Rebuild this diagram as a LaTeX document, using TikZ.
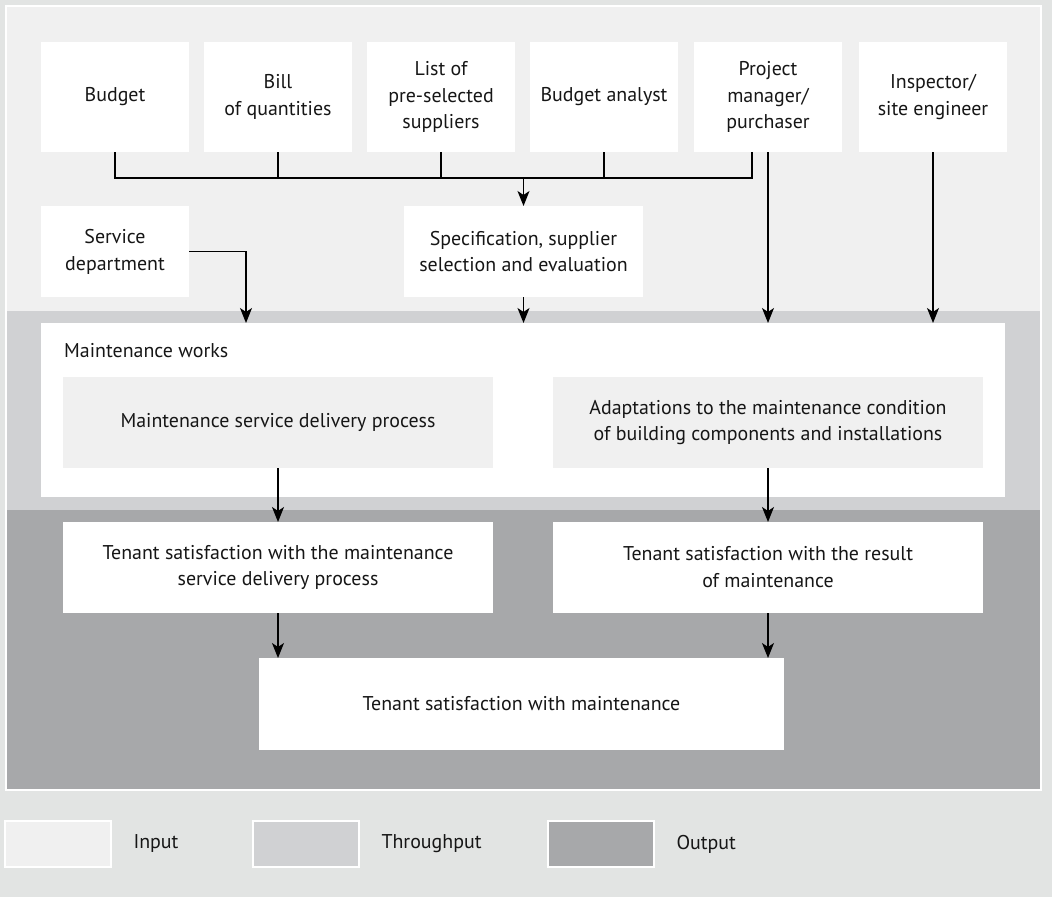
\documentclass[tikz,border=0pt]{standalone}
\usepackage{fontspec}
\setmainfont{PT Sans}
\usetikzlibrary{arrows.meta}
\definecolor{pagebg}{HTML}{E2E4E3}
\definecolor{inbg}{HTML}{F0F0F0}
\definecolor{thbg}{HTML}{D0D1D3}
\definecolor{outbg}{HTML}{A7A8AA}
\definecolor{ink}{HTML}{161616}
\begin{document}
\begin{tikzpicture}[x=1bp,y=-1bp,
  font=\fontsize{20}{27}\selectfont, text=ink,
  box/.style={fill=white, inner sep=0pt, outer sep=0pt, align=center, anchor=north west},
  topbox/.style={box, minimum width=148bp, minimum height=110bp},
  midbox/.style={box, minimum height=91bp},
  procbox/.style={box, fill=inbg, minimum width=430bp, minimum height=91bp},
  resbox/.style={box, minimum width=430bp, minimum height=91bp},
  swatch/.style={draw=white, line width=2bp, inner sep=0pt, outer sep=0pt, anchor=north west,
                 minimum width=106bp, minimum height=46bp},
  legtext/.style={anchor=west, xshift=19bp},
  link/.style={draw=black, line width=1.2bp},
  arr/.style={link, -{Stealth[length=15bp,width=12bp,inset=4bp]}},
]
\useasboundingbox (0,0) rectangle (1052,897);
\fill[pagebg] (0,0) rectangle (1052,897);

% zones: input, throughput, output
\fill[inbg]  (7,7)   rectangle (1040,311);
\fill[thbg]  (7,311) rectangle (1040,510);
\fill[outbg] (7,510) rectangle (1040,789);
\draw[white, line width=2bp] (6,6) rectangle (1041,790);

% input resources
\node[topbox] (budget)  at (41,42)  {Budget};
\node[topbox] (bill)    at (204,42) {Bill\\of quantities};
\node[topbox] (list)    at (367,42) {List of\\pre-selected\\suppliers};
\node[topbox] (analyst) at (530,42) {Budget analyst};
\node[topbox] (pm)      at (694,42) {Project\\manager/\\purchaser};
\node[topbox] (insp)    at (859,42) {Inspector/\\site engineer};

\node[midbox, minimum width=148bp] (svc)  at (41,206)  {Service\\department};
\node[midbox, minimum width=239bp] (spec) at (404,206) {Specification, supplier\\selection and evaluation};

% throughput
\node[box, minimum width=964bp, minimum height=174bp] (mw) at (41,323) {};
\node[anchor=base west, inner sep=0pt] (mwlabel) at (64,357) {Maintenance works};
\node[procbox] (msd)   at (63,377)  {Maintenance service delivery process};
\node[procbox] (adapt) at (553,377) {Adaptations to the maintenance condition\\of building components and installations};

% output
\node[resbox] (ts1) at (63,522)  {Tenant satisfaction with the maintenance\\service delivery process};
\node[resbox] (ts2) at (553,522) {Tenant satisfaction with the result\\of maintenance};
\node[box, minimum width=525bp, minimum height=92bp] (final) at (259,658) {Tenant satisfaction with maintenance};

% collecting line under the top row
\coordinate (bus) at (0,178);
\coordinate (pmjoin) at (752,152);
\coordinate (svcbend) at (246,0);
\draw[link] (budget.south) -- (budget.south |- bus) -- (pmjoin |- bus) -- (pmjoin);
\draw[link] (bill.south) -- (bill.south |- bus);
\draw[link] (list.south) -- (list.south |- bus);
\draw[link] (analyst.south) -- (analyst.south |- bus);
\draw[arr] (spec.north |- bus) -- (spec.north);

% into maintenance works
\draw[arr] (svc.east) -| (svcbend |- mw.north);
\draw[arr] (spec.south) -- (spec.south |- mw.north);
\draw[arr] (pm.south) -- (pm.south |- mw.north);
\draw[arr] (insp.south) -- (insp.south |- mw.north);

% towards satisfaction
\draw[arr] (msd.south) -- (ts1.north);
\draw[arr] (adapt.south) -- (ts2.north);
\draw[arr] (ts1.south) -- (ts1.south |- final.north);
\draw[arr] (ts2.south) -- (ts2.south |- final.north);

% legend
\node[swatch, fill=inbg]  (lin)  at (5,821)   {};
\node[swatch, fill=thbg]  (lth)  at (253,821) {};
\node[swatch, fill=outbg] (lout) at (548,821) {};
\node[legtext] (linT)  at (lin.east)  {Input};
\node[legtext] (lthT)  at (lth.east)  {Throughput};
\node[legtext] (loutT) at (lout.east) {Output};
\end{tikzpicture}
\end{document}
